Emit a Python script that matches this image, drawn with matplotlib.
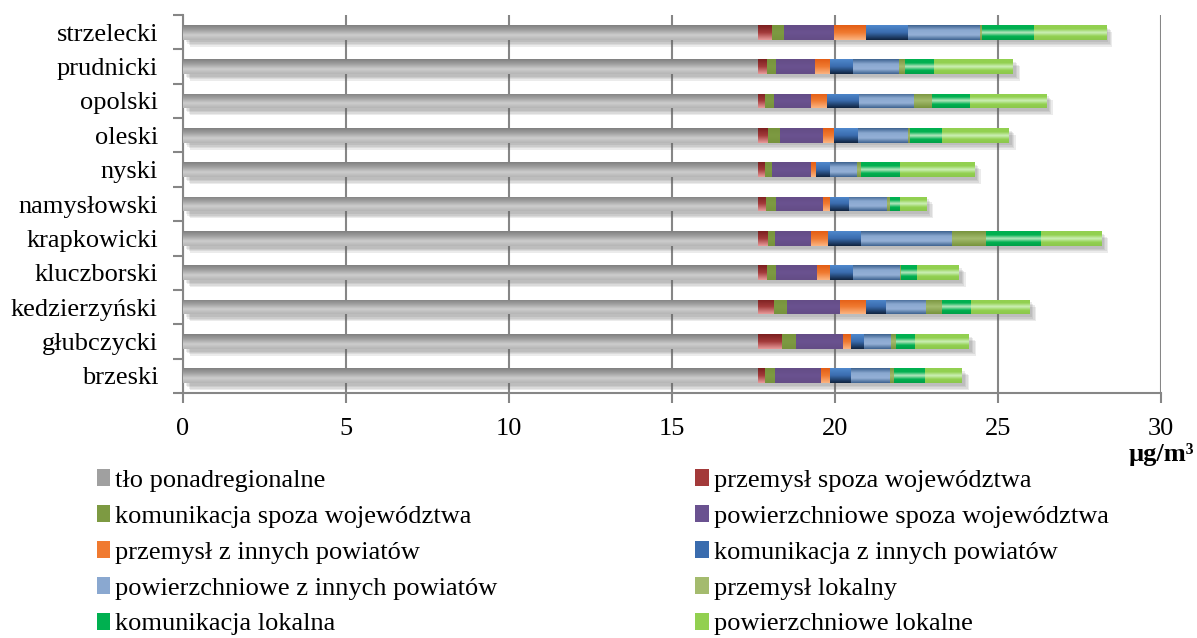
import matplotlib
matplotlib.use('Agg')
import matplotlib.pyplot as plt
import matplotlib.patheffects as pe
from matplotlib.colors import LinearSegmentedColormap
from matplotlib.patches import Patch
import numpy as np

plt.rcParams['font.family'] = ['Liberation Serif', 'DejaVu Serif']

# powiaty (od dołu wykresu)
powiaty = ['brzeski', 'głubczycki', 'kedzierzyński', 'kluczborski', 'krapkowicki',
           'namysłowski', 'nyski', 'oleski', 'opolski', 'prudnicki', 'strzelecki']

# udziały źródeł [µg/m3]
tlo_ponadregionalne = [17.63, 17.63, 17.63, 17.63, 17.65, 17.63, 17.63, 17.63, 17.63, 17.63, 17.65]
przemysl_spoza = [0.21, 0.75, 0.51, 0.27, 0.29, 0.25, 0.21, 0.31, 0.23, 0.28, 0.41]
komunikacja_spoza = [0.33, 0.43, 0.40, 0.30, 0.23, 0.32, 0.24, 0.38, 0.27, 0.28, 0.39]
powierzchniowe_spoza = [1.40, 1.43, 1.61, 1.25, 1.10, 1.43, 1.19, 1.31, 1.13, 1.21, 1.52]
przemysl_powiaty = [0.28, 0.26, 0.80, 0.40, 0.52, 0.22, 0.15, 0.34, 0.50, 0.44, 0.98]
komunikacja_powiaty = [0.65, 0.38, 0.60, 0.71, 1.00, 0.57, 0.43, 0.73, 0.97, 0.71, 1.30]
powierzchniowe_powiaty = [1.20, 0.84, 1.23, 1.43, 2.79, 1.17, 0.83, 1.53, 1.68, 1.42, 2.21]
przemysl_lokalny = [0.10, 0.14, 0.50, 0.05, 1.06, 0.10, 0.13, 0.08, 0.58, 0.19, 0.05]
komunikacja_lokalna = [0.97, 0.60, 0.88, 0.49, 1.67, 0.31, 1.17, 0.98, 1.14, 0.88, 1.58]
powierzchniowe_lokalne = [1.13, 1.65, 1.79, 1.27, 1.86, 0.80, 2.28, 2.04, 2.34, 2.42, 2.21]

serie = [
    ('tło ponadregionalne', tlo_ponadregionalne, ['#808080', '#a0a0a0', '#cdcdcd', '#b5b5b5']),
    ('przemysł spoza województwa', przemysl_spoza, ['#7a1f1f', '#a33a3a', '#e79a9a']),
    ('komunikacja spoza województwa', komunikacja_spoza, ['#77933c', '#7d9a42', '#77933c']),
    ('powierzchniowe spoza województwa', powierzchniowe_spoza, ['#644d86', '#6a5290', '#644d86']),
    ('przemysł z innych powiatów', przemysl_powiaty, ['#e35d15', '#f07a30', '#fbb482']),
    ('komunikacja z innych powiatów', komunikacja_powiaty, ['#5088cc', '#3a6cae', '#10233f']),
    ('powierzchniowe z innych powiatów', powierzchniowe_powiaty, ['#3d628f', '#8aa8d0', '#94b0d6', '#3d628f']),
    ('przemysł lokalny', przemysl_lokalny, ['#77933c', '#a4bb6e', '#77933c']),
    ('komunikacja lokalna', komunikacja_lokalna, ['#00b050', '#00b050', '#b8e8c0', '#00b050', '#00a048']),
    ('powierzchniowe lokalne', powierzchniowe_lokalne, ['#92d050', '#92d050', '#cdf0b8', '#92d050', '#8cc84c']),
]

fig = plt.figure(figsize=(11.97, 6.38), dpi=100)
ax = fig.add_axes([0.1529, 0.384, 0.817, 0.5925])

y = np.arange(len(powiaty))
h = 0.43
grad = np.linspace(0, 1, 64).reshape(-1, 1)

# cień pod słupkami
suma = np.sum([s[1] for s in serie], axis=0)
cien = [pe.SimplePatchShadow(offset=(o, -o), shadow_rgbFace='#606060', alpha=0.12) for o in (2, 3, 4, 5)]
ax.barh(y, suma, height=h, color='white', zorder=1.5, path_effects=cien + [pe.Normal()])

left = np.zeros(len(powiaty))
handles = []
for nazwa, wart, kolory in serie:
    bars = ax.barh(y, wart, left=left, height=h, color=kolory[1], zorder=2)
    cmap = LinearSegmentedColormap.from_list(nazwa, kolory)
    for r in bars:
        x0, y0, w, hh = r.get_x(), r.get_y(), r.get_width(), r.get_height()
        im = ax.imshow(grad, cmap=cmap, aspect='auto', origin='upper',
                       extent=[x0, x0 + w, y0, y0 + hh], zorder=3, interpolation='bilinear')
        im.set_clip_path(r)
    left += np.array(wart)
    handles.append(Patch(facecolor=kolory[1], label=nazwa))

ax.set_xlim(0, 30)
ax.set_ylim(-0.5, len(powiaty) - 0.5)
ax.set_xticks(range(0, 31, 5))
ax.set_yticks(y)
ax.set_yticklabels(powiaty)
ax.set_yticks(np.arange(-0.5, len(powiaty), 1), minor=True)
ax.tick_params(axis='y', which='major', length=0, pad=18, labelsize=19)
ax.tick_params(axis='y', which='minor', length=7, color='#868686', width=1.5)
ax.tick_params(axis='x', length=7, color='#868686', width=1.5, pad=11, labelsize=19)
ax.grid(axis='x', color='#868686', linewidth=1.5)
ax.set_axisbelow(True)
for s in ['top', 'right']:
    ax.spines[s].set_visible(False)
for s in ['left', 'bottom']:
    ax.spines[s].set_color('#868686')
    ax.spines[s].set_linewidth(1.5)

fig.text(0.998, 0.287, 'µg/m³', ha='right', va='center', fontsize=19, fontweight='bold')

# legenda w dwóch kolumnach, kolejność wierszami
kol = handles[0::2] + handles[1::2]
fig.legend(handles=kol, loc='upper left', bbox_to_anchor=(0.072, 0.281), ncol=2,
           frameon=False, fontsize=19, handlelength=0.5, handleheight=0.6,
           handletextpad=0.2, columnspacing=7.5, labelspacing=0.5, borderaxespad=0)

fig.savefig('out.png', dpi=100)
